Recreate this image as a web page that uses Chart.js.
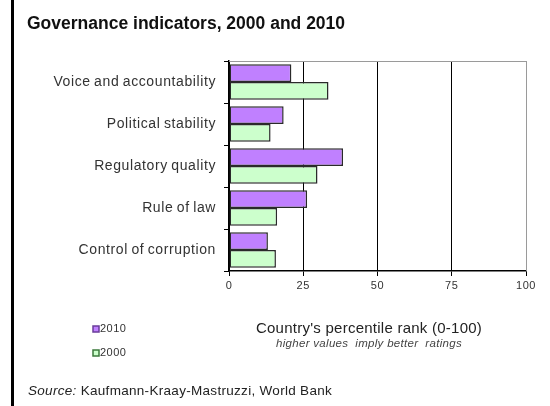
<!DOCTYPE html>
<html>
<head>
<meta charset="utf-8">
<script src="https://cdn.jsdelivr.net/npm/chart.js@4"></script>
<style>
  body { margin: 0; background: #fff; }
  #wrap { width: 550px; height: 406px; }
</style>
</head>
<body>
<div id="wrap"><canvas id="govChart" width="550" height="406"></canvas></div>
<script>
// Governance indicators, percentile rank
const indicators = ['Voice and accountability', 'Political stability', 'Regulatory quality', 'Rule of law', 'Control of corruption'];
const rank2010 = [21, 18.4, 38.4, 26.3, 13.1];
const rank2000 = [33.5, 14, 29.8, 16.2, 15.8];
const xTicks = [0, 25, 50, 75, 100];

const FONT = 'Arial, "Liberation Sans", sans-serif';

// slightly spread lettering for the axis labels
const spacingPlugin = {
  id: 'spacing',
  beforeDraw(chart) {
    chart.ctx.letterSpacing = '0.6px';
    chart.ctx.wordSpacing = '-1px';
  }
};

// Extra text and frame drawn around the plot
const decorPlugin = {
  id: 'decor',
  afterDraw(chart) {
    const ctx = chart.ctx;
    const area = chart.chartArea;
    ctx.save();
    ctx.letterSpacing = '0px';
    ctx.wordSpacing = '0px';

    // black rule down the left side
    ctx.fillStyle = '#000';
    ctx.fillRect(11, 0, 3, 406);

    // gray frame on top and right of the plot
    ctx.strokeStyle = '#9a9a9a';
    ctx.lineWidth = 1;
    ctx.beginPath();
    ctx.moveTo(area.left, area.top + 0.5);
    ctx.lineTo(area.right + 0.5, area.top + 0.5);
    ctx.lineTo(area.right + 0.5, area.bottom);
    ctx.stroke();

    // title
    ctx.fillStyle = '#111';
    ctx.font = 'bold 17.5px ' + FONT;
    ctx.textAlign = 'left';
    ctx.textBaseline = 'alphabetic';
    ctx.fillText('Governance indicators, 2000 and 2010', 27, 29);

    // axis caption
    ctx.textAlign = 'center';
    ctx.textBaseline = 'middle';
    ctx.fillStyle = '#222';
    ctx.letterSpacing = '0.25px';
    ctx.font = '15px ' + FONT;
    ctx.fillText("Country's percentile rank (0-100)", 369, 329);
    ctx.fillStyle = '#444';
    ctx.letterSpacing = '0.3px';
    ctx.font = 'italic 11.5px ' + FONT;
    ctx.fillText('higher values  imply better  ratings', 369, 344);

    // legend
    const items = [
      { label: '2010', ds: chart.data.datasets[0], y: 329 },
      { label: '2000', ds: chart.data.datasets[1], y: 353 }
    ];
    ctx.textAlign = 'left';
    ctx.font = '11px ' + FONT;
    ctx.letterSpacing = '0.5px';
    items.forEach(it => {
      ctx.fillStyle = it.ds.backgroundColor;
      ctx.fillRect(93, it.y - 3, 6, 6);
      ctx.strokeStyle = it.ds.legendStroke;
      ctx.lineWidth = 1.5;
      ctx.strokeRect(93, it.y - 3, 6, 6);
      ctx.fillStyle = '#333';
      ctx.fillText(it.label, 100, it.y);
    });

    // source line
    ctx.fillStyle = '#222';
    ctx.letterSpacing = '0.3px';
    ctx.font = 'italic 13.5px ' + FONT;
    ctx.fillText('Source:', 28, 391);
    const w = ctx.measureText('Source:').width;
    ctx.font = '13.5px ' + FONT;
    ctx.fillText(' Kaufmann-Kraay-Mastruzzi, World Bank', 28 + w, 391);

    ctx.restore();
  }
};

new Chart(document.getElementById('govChart'), {
  type: 'bar',
  data: {
    labels: indicators,
    datasets: [
      {
        label: '2010',
        data: rank2010,
        backgroundColor: '#c080ff',
        borderColor: '#2a2a2a',
        legendStroke: '#6a3d9a',
        borderWidth: 1.5,
        borderSkipped: false
      },
      {
        label: '2000',
        data: rank2000,
        backgroundColor: '#ccffcc',
        borderColor: '#2a2a2a',
        legendStroke: '#3c7a3c',
        borderWidth: 1.5,
        borderSkipped: false
      }
    ]
  },
  options: {
    indexAxis: 'y',
    responsive: false,
    animation: false,
    layout: { padding: { left: 0, right: 24, top: 61, bottom: 0 } },
    datasets: { bar: { categoryPercentage: 0.84, barPercentage: 1.0 } },
    plugins: {
      legend: { display: false },
      title: { display: false },
      tooltip: { enabled: false }
    },
    scales: {
      x: {
        min: 0,
        max: 100,
        afterBuildTicks(scale) {
          scale.ticks = xTicks.map(v => ({ value: v }));
        },
        afterFit(scale) { scale.height = 135; },
        grid: {
          color: ctx => (ctx.tick && ctx.tick.value === 100 ? '#9a9a9a' : '#000'),
          tickColor: '#000',
          tickLength: 5,
          lineWidth: 1
        },
        border: { display: true, color: '#000', width: 1.5 },
        ticks: {
          color: '#333',
          font: { family: FONT, size: 11 },
          padding: 3,
          maxRotation: 0
        }
      },
      y: {
        afterFit(scale) { scale.width = 229; },
        grid: {
          offset: true,
          drawOnChartArea: false,
          color: '#000',
          tickLength: 5
        },
        border: { display: true, color: '#000', width: 1.5 },
        ticks: {
          color: '#333',
          font: { family: FONT, size: 14 },
          padding: 8
        }
      }
    }
  },
  plugins: [spacingPlugin, decorPlugin]
});
</script>
</body>
</html>
